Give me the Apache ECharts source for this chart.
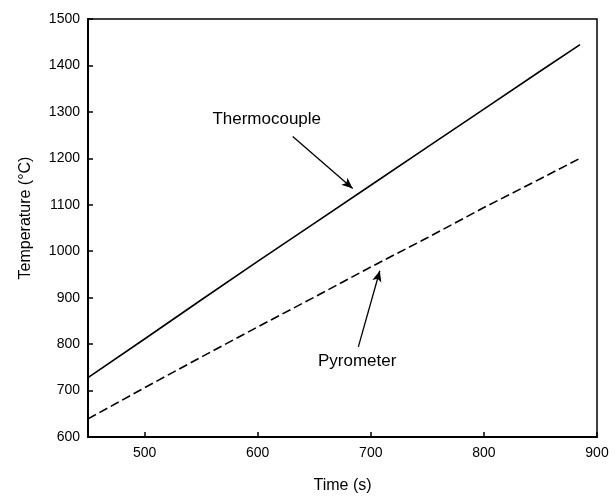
<!DOCTYPE html>
<html lang="en" style="height: 100%">

<head>
  <meta charset="utf-8" />
</head>

<body style="height: 100%; margin: 0; background: #fff">
  <div id="container" style="width: 616px; height: 499px"></div>

  <script type="text/javascript" src="https://fastly.jsdelivr.net/npm/echarts@6.0.0/dist/echarts.min.js"></script>

  <script type="text/javascript">
    // time (s) and temperature readings (°C)
    var times = [450, 500, 550, 600, 650, 700, 750, 800, 850, 885];
    var thermocouple = [728, 811, 895, 978, 1060, 1142, 1224, 1306, 1388, 1445];
    var pyrometer = [639, 706, 772, 837, 901, 966, 1029, 1094, 1156, 1200];

    // annotation text and arrows, in data coordinates [time, temp]
    var thermoLabel = [608, 1285];
    var thermoArrow = [[631, 1247], [684, 1135]];
    var pyroLabel = [688, 762];
    var pyroArrow = [[689, 794], [708, 958]];

    var font = "Liberation Sans";

    function pairs(xs, ys) {
      return xs.map(function (x, i) { return [x, ys[i]]; });
    }

    function note(coord, text) {
      return {
        symbol: "rect",
        symbolSize: 1,
        itemStyle: { color: "transparent" },
        label: {
          show: true,
          position: "inside",
          color: "#000",
          fontFamily: font,
          fontSize: 17,
          formatter: text,
        },
        data: [{ coord: coord }],
      };
    }

    function arrow(ends) {
      return {
        silent: true,
        symbol: ["none", "arrow"],
        symbolSize: [7, 11],
        label: { show: false },
        lineStyle: { color: "#000", width: 1.3, type: "solid" },
        data: [[{ coord: ends[0] }, { coord: ends[1] }]],
      };
    }

    var myChart = echarts.init(document.getElementById("container"), null, {
      renderer: "canvas",
    });

    var option = {
      animation: false,
      grid: {
        left: 88,
        right: 19,
        top: 19,
        bottom: 61,
        show: true,
        borderColor: "#000",
        borderWidth: 1.5,
      },
      xAxis: {
        type: "value",
        min: 450,
        max: 900,
        splitNumber: 5,
        name: "Time (s)",
        nameLocation: "middle",
        nameGap: 41,
        nameTextStyle: { color: "#000", fontFamily: font, fontSize: 16 },
        axisLine: { onZero: false, lineStyle: { color: "#000", width: 2 } },
        axisTick: { inside: true, length: 5, lineStyle: { color: "#000", width: 1.5 } },
        axisLabel: {
          showMinLabel: false,
          color: "#000",
          fontFamily: font,
          fontSize: 14,
          margin: 9,
          formatter: function (v) { return String(v); },
        },
        splitLine: { show: false },
      },
      yAxis: {
        type: "value",
        min: 600,
        max: 1500,
        interval: 100,
        name: "Temperature (°C)",
        nameLocation: "middle",
        nameGap: 54,
        nameTextStyle: { color: "#000", fontFamily: font, fontSize: 16, padding: [0, 0, 0, 20] },
        axisLine: { onZero: false, lineStyle: { color: "#000", width: 2 } },
        axisTick: { inside: true, length: 5, lineStyle: { color: "#000", width: 1.5 } },
        axisLabel: {
          color: "#000",
          fontFamily: font,
          fontSize: 14,
          margin: 8,
          formatter: function (v) { return String(v); },
        },
        splitLine: { show: false },
      },
      series: [
        {
          name: "Thermocouple",
          type: "line",
          data: pairs(times, thermocouple),
          showSymbol: false,
          lineStyle: { color: "#000", width: 1.6 },
          markPoint: note(thermoLabel, "Thermocouple"),
          markLine: arrow(thermoArrow),
        },
        {
          name: "Pyrometer",
          type: "line",
          data: pairs(times, pyrometer),
          showSymbol: false,
          lineStyle: { color: "#000", width: 1.6, type: [9, 4] },
          markPoint: note(pyroLabel, "Pyrometer"),
          markLine: arrow(pyroArrow),
        },
      ],
    };

    myChart.setOption(option);
  </script>
</body>

</html>
